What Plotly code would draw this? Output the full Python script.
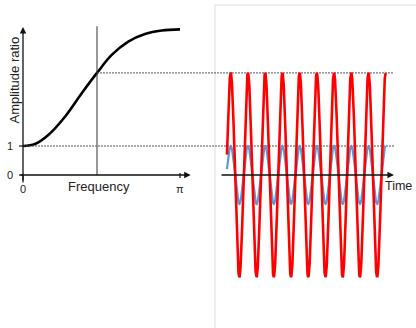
import numpy as np
import plotly.graph_objects as go

# ---------------- data ----------------
freq = [0.0, 0.240, 0.506, 0.840, 1.175, 1.481, 1.775, 2.107, 2.441, 2.775, 3.1416]
amp_ratio = [1.0, 1.07, 1.38, 2.01, 2.82, 3.52, 4.14, 4.60, 4.86, 4.98, 5.02]
marked_index = 5                    # frequency picked for the time signals
input_amplitude = 1.0               # blue input signal amplitude
n_cycles = 9                        # full cycles shown after the first peak
start_phase_cycles = -0.218         # signal starts slightly before first peak
y_tick_vals = [0, 1]
y_tick_text = ["0", "1"]
x_tick_vals = [0.0, np.pi]
x_tick_text = ["0", "π"]

marked_freq = freq[marked_index]
marked_amp = amp_ratio[marked_index]

# ---------------- layout constants ----------------
W, H = 416, 328
yaxis_range = [(175 - 328) / 29, 175 / 29]
xaxis_range = [-23 * np.pi / 157, 393 * np.pi / 157]
px2 = 17.22
xaxis2_range = [-230.7 / px2, (416 - 230.7) / px2]
y_axis_top = 5.10
freq_axis_end = 3.356
freq_axis_start = -0.08
time_axis_start = -0.62
time_axis_end = 9.48
ref_line_end = 7.424   # in left-axis units
TEXT = "#222222"
AX = "#111111"

fig = go.Figure()

# amplitude ratio curve
fig.add_trace(go.Scatter(x=freq, y=amp_ratio, mode="lines",
                         line=dict(color="black", width=2.6, shape="spline", smoothing=1.0),
                         xaxis="x", yaxis="y", hoverinfo="skip"))

# vertical marker at chosen frequency
fig.add_trace(go.Scatter(x=[marked_freq, marked_freq], y=[0, y_axis_top + 0.03], mode="lines",
                         line=dict(color="#333333", width=1), xaxis="x", yaxis="y", hoverinfo="skip"))

# dotted reference lines
fig.add_trace(go.Scatter(x=[marked_freq, ref_line_end], y=[marked_amp, marked_amp], mode="lines",
                         line=dict(color="#555555", width=1, dash="2px,1px"), xaxis="x", yaxis="y"))
fig.add_trace(go.Scatter(x=[0, ref_line_end], y=[input_amplitude, input_amplitude], mode="lines",
                         line=dict(color="#555555", width=1, dash="2px,1px"), xaxis="x", yaxis="y"))

# y tick marks
for v in y_tick_vals:
    fig.add_trace(go.Scatter(x=[-4 * np.pi / 157, 0], y=[v, v], mode="lines",
                             line=dict(color=AX, width=1.2), xaxis="x", yaxis="y"))
# x tick marks
fig.add_trace(go.Scatter(x=[x_tick_vals[0]] * 2, y=[0, -7.5 / 29], mode="lines",
                         line=dict(color=AX, width=1.2), xaxis="x", yaxis="y"))
fig.add_trace(go.Scatter(x=[x_tick_vals[1]] * 2, y=[2 / 29, -3 / 29], mode="lines",
                         line=dict(color=AX, width=1.2), xaxis="x", yaxis="y"))

# time signals
t = np.linspace(start_phase_cycles, n_cycles, 1200)
fig.add_trace(go.Scatter(x=t, y=input_amplitude * np.cos(2 * np.pi * t), mode="lines",
                         line=dict(color="#5b9bd5", width=2.2), xaxis="x2", yaxis="y"))
fig.add_trace(go.Scatter(x=t, y=marked_amp * np.cos(2 * np.pi * t), mode="lines",
                         line=dict(color="#ff0000", width=2.6), xaxis="x2", yaxis="y"))

annotations = []
# axis arrows
annotations.append(dict(x=0, y=y_axis_top, ax=0, ay=-7 / 29, xref="x", yref="y", axref="x", ayref="y",
                        text="", showarrow=True, arrowhead=2, arrowsize=1, arrowwidth=1.3, arrowcolor=AX))
annotations.append(dict(x=freq_axis_end, y=0, ax=freq_axis_start, ay=0, xref="x", yref="y", axref="x", ayref="y",
                        text="", showarrow=True, arrowhead=2, arrowsize=1, arrowwidth=1.3, arrowcolor=AX))
annotations.append(dict(x=time_axis_end, y=0, ax=time_axis_start, ay=0, xref="x2", yref="y", axref="x2", ayref="y",
                        text="", showarrow=True, arrowhead=2, arrowsize=1, arrowwidth=1.3, arrowcolor=AX))

# tick labels
for v, s in zip(y_tick_vals, y_tick_text):
    annotations.append(dict(x=0, y=v, xref="x", yref="y", text=s, showarrow=False,
                            xanchor="right", yanchor="middle", xshift=-8,
                            font=dict(family="Liberation Sans, Arial", size=11, color=TEXT)))
for v, s in zip(x_tick_vals, x_tick_text):
    annotations.append(dict(x=v, y=0, xref="x", yref="y", text=s, showarrow=False,
                            xanchor="center", yanchor="top", yshift=-6,
                            font=dict(family="Liberation Sans, Arial", size=11, color=TEXT)))

# axis titles
annotations.append(dict(x=np.pi / 2, y=0, xref="x", yref="y", text="Frequency", showarrow=False,
                        xanchor="center", yanchor="middle", yshift=-11, xshift=-3,
                        font=dict(family="Liberation Sans, Arial", size=13, color=TEXT)))
annotations.append(dict(x=0, y=(175 - 80) / 29, xref="x", yref="y", text="Amplitude ratio", showarrow=False,
                        xanchor="center", yanchor="middle", xshift=-9.5, textangle=-90,
                        font=dict(family="Liberation Sans, Arial", size=13, color=TEXT)))
annotations.append(dict(x=time_axis_end, y=0, xref="x2", yref="y", text="Time", showarrow=False,
                        xanchor="left", yanchor="top", xshift=-11, yshift=-2,
                        font=dict(family="Liberation Sans, Arial", size=12.5, color=TEXT)))

hidden = dict(showgrid=False, zeroline=False, showticklabels=False, ticks="", showline=False)
fig.update_layout(
    width=W, height=H, margin=dict(l=0, r=0, t=0, b=0),
    paper_bgcolor="white", plot_bgcolor="white", showlegend=False,
    xaxis=dict(range=xaxis_range, domain=[0, 1], **hidden),
    xaxis2=dict(range=xaxis2_range, domain=[0, 1], overlaying="x", anchor="y", **hidden),
    yaxis=dict(range=yaxis_range, domain=[0, 1], **hidden),
    annotations=annotations,
    shapes=[dict(type="rect", xref="paper", yref="paper", x0=215 / W, x1=1.05, y0=-0.05, y1=1 - 5 / H,
                 line=dict(color="#dddddd", width=1), fillcolor="rgba(0,0,0,0)", layer="below")],
)

fig.write_html("out.html")
